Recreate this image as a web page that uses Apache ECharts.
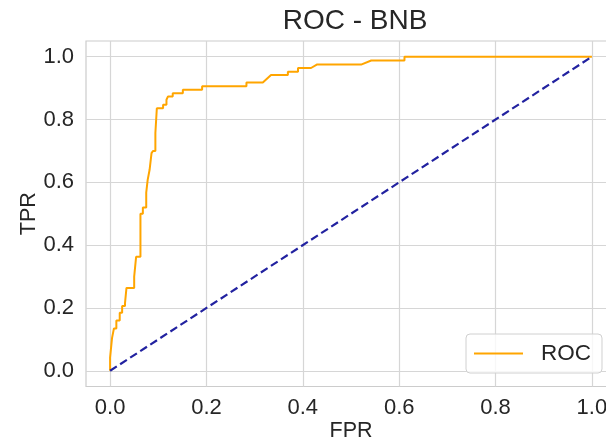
<!DOCTYPE html>
<html>
<head>
<meta charset="utf-8">
<script src="https://cdn.jsdelivr.net/npm/echarts@6/dist/echarts.min.js"></script>
<style>
html,body{margin:0;padding:0;background:#fff;}
#chart{width:606px;height:446px;}
</style>
</head>
<body>
<div id="chart"></div>
<script>
const title = 'ROC - BNB';
const xName = 'FPR';
const yName = 'TPR';
const seriesName = 'ROC';
const tickValues = [0.0, 0.2, 0.4, 0.6, 0.8, 1.0];
const fpr = [0.000, 0.000, 0.004, 0.004, 0.008, 0.008, 0.013, 0.013, 0.020, 0.020, 0.025, 0.025, 0.031, 0.031, 0.034, 0.034, 0.050, 0.050, 0.054, 0.054, 0.063, 0.063, 0.068, 0.068, 0.075, 0.075, 0.078, 0.078, 0.082, 0.082, 0.086, 0.086, 0.089, 0.089, 0.094, 0.094, 0.097, 0.097, 0.110, 0.110, 0.117, 0.117, 0.120, 0.120, 0.130, 0.130, 0.151, 0.151, 0.191, 0.191, 0.283, 0.283, 0.317, 0.334, 0.369, 0.369, 0.390, 0.390, 0.417, 0.429, 0.521, 0.542, 0.611, 0.611, 1.000];
const tpr = [0.000, 0.042, 0.042, 0.104, 0.104, 0.135, 0.135, 0.160, 0.160, 0.185, 0.185, 0.206, 0.206, 0.216, 0.216, 0.264, 0.264, 0.300, 0.300, 0.363, 0.363, 0.500, 0.500, 0.520, 0.520, 0.567, 0.567, 0.608, 0.608, 0.640, 0.640, 0.693, 0.693, 0.700, 0.700, 0.757, 0.757, 0.836, 0.836, 0.847, 0.847, 0.863, 0.863, 0.873, 0.873, 0.884, 0.884, 0.895, 0.895, 0.906, 0.906, 0.918, 0.918, 0.942, 0.942, 0.952, 0.952, 0.964, 0.964, 0.975, 0.975, 0.988, 0.988, 1.000, 1.000];
const diagX = [0, 1];
const diagY = [0, 1];

const font = 'Liberation Sans, Arial, sans-serif';
const textColor = '#262626';
const chart = echarts.init(document.getElementById('chart'), null, {renderer: 'canvas'});
const gridLine = {show: true, lineStyle: {color: '#d6d6d6', width: 1.2}};
chart.setOption({
  animation: false,
  backgroundColor: '#ffffff',
  title: {
    text: title, left: 350, top: 2, textAlign: 'center',
    textStyle: {fontFamily: font, fontSize: 28, fontWeight: 'normal', color: textColor}
  },
  grid: {left: 86, top: 41, width: 530, height: 345.5, outerBoundsMode: 'none', containLabel: false, show: true, borderColor: '#cccccc', borderWidth: 1.2, backgroundColor: '#ffffff'},
  legend: {
    data: [seriesName], left: 466, top: 334,
    orient: 'vertical',
    icon: 'rect',
    padding: [6, 11, 6, 8],
    itemWidth: 49, itemHeight: 2, itemGap: 0,
    borderColor: '#d0d0d0', borderWidth: 1, borderRadius: 4,
    backgroundColor: 'rgba(255,255,255,0.8)',
    textStyle: {fontFamily: font, fontSize: 22.5, lineHeight: 27, color: textColor, padding: [0, 0, 0, 13]}
  },
  xAxis: {
    type: 'value', min: -0.05, max: 1.05,
    name: xName, nameLocation: 'middle', nameGap: 34, nameMoveOverlap: false,
    nameTextStyle: {fontFamily: font, fontSize: 21.5, color: textColor},
    axisLine: {show: false},
    axisTick: {show: false, customValues: tickValues},
    axisLabel: {customValues: tickValues, formatter: v => v.toFixed(1), margin: 10, fontFamily: font, fontSize: 22, color: textColor},
    splitLine: gridLine
  },
  yAxis: {
    type: 'value', min: -0.05, max: 1.05,
    name: yName, nameLocation: 'middle', nameGap: 46, nameMoveOverlap: false,
    nameTextStyle: {fontFamily: font, fontSize: 21.5, color: textColor},
    axisLine: {show: false},
    axisTick: {show: false, customValues: tickValues},
    axisLabel: {customValues: tickValues, formatter: v => v.toFixed(1), margin: 12, fontFamily: font, fontSize: 22, color: textColor},
    splitLine: gridLine
  },
  series: [
    {
      name: seriesName, type: 'line', symbol: 'none',
      data: fpr.map((x, i) => [x, tpr[i]]),
      lineStyle: {color: '#ffa500', width: 2},
      itemStyle: {color: '#ffa500'}
    },
    {
      name: 'diag', type: 'line', symbol: 'none',
      data: diagX.map((x, i) => [x, diagY[i]]),
      lineStyle: {color: '#2222a0', width: 2.2, type: [8, 4]},
      itemStyle: {color: '#2222a0'}
    }
  ]
});
</script>
</body>
</html>
